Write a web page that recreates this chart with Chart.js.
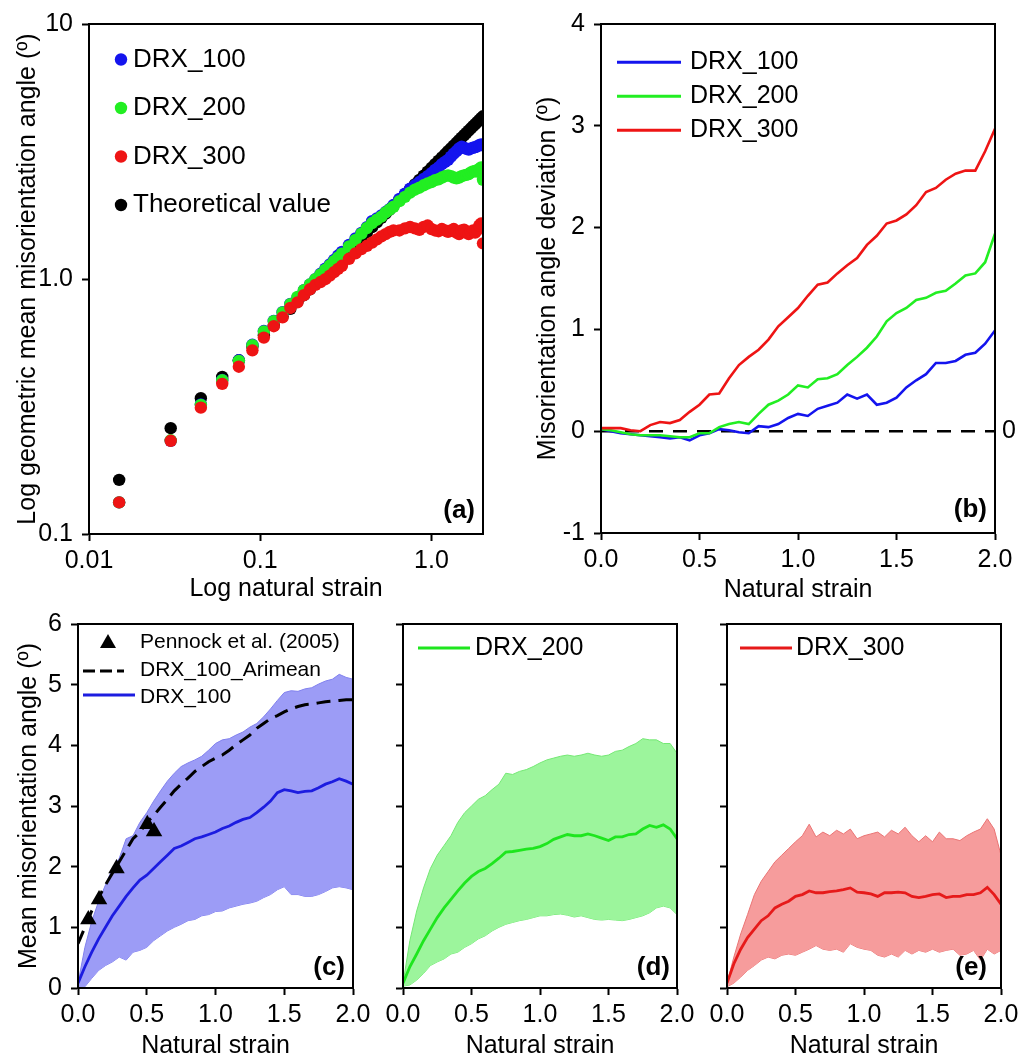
<!DOCTYPE html>
<html><head><meta charset="utf-8">
<script src="https://cdn.jsdelivr.net/npm/chart.js@4.4.1/dist/chart.umd.min.js"></script>
<style>
html,body{margin:0;padding:0;background:#fff;}
body{width:1032px;height:1061px;position:relative;overflow:hidden;}
.p{position:absolute;}
</style></head><body>
<div class="p" style="left:0;top:0"><canvas id="ca" width="510" height="610" style="width:510px;height:610px"></canvas></div>
<div class="p" style="left:500px;top:0"><canvas id="cb" width="532" height="610" style="width:532px;height:610px"></canvas></div>
<div class="p" style="left:0;top:600px"><canvas id="cc" width="380" height="461" style="width:380px;height:461px"></canvas></div>
<div class="p" style="left:380px;top:600px"><canvas id="cd" width="330" height="461" style="width:330px;height:461px"></canvas></div>
<div class="p" style="left:700px;top:600px"><canvas id="ce" width="332" height="461" style="width:332px;height:461px"></canvas></div>
<script>
// ---------- Panel (a): log-log geometric mean ----------
const strainA = [0.015,0.03,0.045,0.06,0.075,0.09,0.105,0.12,0.135,0.15,0.165,0.18,0.195,0.21,0.225,0.24,0.255,0.27,0.285,0.3,0.33,0.36,0.39,0.42,0.45,0.48,0.51,0.54,0.57,0.6,0.65,0.7,0.75,0.8,0.85,0.9,0.95,1.0,1.05,1.1,1.15,1.2,1.25,1.3,1.35,1.4,1.45,1.5,1.55,1.6,1.65,1.7,1.75,1.8,1.85,1.9,1.95,2.0];
const theoA = [0.163,0.260,0.341,0.413,0.480,0.542,0.602,0.658,0.712,0.764,0.815,0.864,0.911,0.958,1.003,1.048,1.091,1.134,1.176,1.217,1.297,1.375,1.451,1.525,1.597,1.668,1.737,1.805,1.872,1.937,2.044,2.148,2.251,2.350,2.447,2.543,2.637,2.729,2.820,2.909,2.998,3.084,3.170,3.255,3.338,3.421,3.502,3.583,3.662,3.741,3.819,3.897,3.973,4.049,4.124,4.198,4.272,4.345];
const drx100A = [0.133,0.232,0.322,0.402,0.480,0.552,0.625,0.685,0.741,0.798,0.845,0.904,0.951,0.998,1.048,1.098,1.141,1.189,1.236,1.277,1.361,1.443,1.515,1.597,1.687,1.728,1.777,1.830,1.880,1.950,2.06,2.16,2.26,2.33,2.40,2.47,2.53,2.60,2.68,2.74,2.82,2.88,2.93,3.02,3.10,3.17,3.25,3.30,3.27,3.24,3.22,3.25,3.27,3.29,3.31,3.35,3.37,3.34];
const drx200A = [0.133,0.233,0.321,0.401,0.477,0.550,0.623,0.683,0.739,0.797,0.850,0.904,0.951,0.998,1.043,1.088,1.131,1.174,1.216,1.257,1.341,1.423,1.507,1.585,1.657,1.708,1.757,1.825,1.872,1.920,2.02,2.10,2.18,2.24,2.28,2.33,2.37,2.40,2.44,2.46,2.50,2.53,2.55,2.53,2.50,2.48,2.50,2.53,2.55,2.56,2.58,2.62,2.64,2.65,2.64,2.70,2.74,2.45];
const drx300A = [0.133,0.232,0.313,0.388,0.453,0.525,0.589,0.653,0.707,0.770,0.810,0.864,0.911,0.948,0.973,0.998,1.031,1.064,1.096,1.127,1.20,1.26,1.31,1.35,1.39,1.43,1.47,1.50,1.53,1.55,1.55,1.58,1.60,1.58,1.56,1.60,1.62,1.57,1.55,1.54,1.57,1.55,1.53,1.55,1.57,1.52,1.50,1.55,1.56,1.52,1.50,1.53,1.55,1.52,1.56,1.62,1.65,1.38];
const logTicksX = [0.01,0.1,1];
const logTickLabelsX = ['0.01','0.1','1.0'];
const logTicksY = [0.1,1,10];
const logTickLabelsY = ['0.1','1.0','10'];

// ---------- Panel (b): deviation ----------
const strainGrid = [0,0.05,0.1,0.15,0.2,0.25,0.3,0.35,0.4,0.45,0.5,0.55,0.6,0.65,0.7,0.75,0.8,0.85,0.9,0.95,1.0,1.05,1.1,1.15,1.2,1.25,1.3,1.35,1.4,1.45,1.5,1.55,1.6,1.65,1.7,1.75,1.8,1.85,1.9,1.95,2.0];
const dev100 = [0.02,0.0,-0.02,-0.03,-0.04,-0.05,-0.06,-0.07,-0.06,-0.09,-0.04,-0.02,0.02,0.01,-0.01,-0.02,0.05,0.04,0.07,0.13,0.17,0.15,0.22,0.25,0.28,0.36,0.32,0.36,0.26,0.28,0.33,0.43,0.50,0.56,0.67,0.67,0.69,0.75,0.77,0.86,0.99];
const dev200 = [0.02,0.01,-0.01,-0.03,-0.04,-0.04,-0.04,-0.05,-0.06,-0.06,-0.02,-0.02,0.04,0.07,0.09,0.07,0.17,0.26,0.30,0.36,0.45,0.43,0.51,0.52,0.56,0.65,0.73,0.82,0.93,1.08,1.16,1.21,1.29,1.31,1.36,1.38,1.45,1.53,1.55,1.66,1.94];
const dev300 = [0.03,0.03,0.03,0.01,0.0,0.06,0.09,0.08,0.11,0.19,0.26,0.36,0.37,0.52,0.65,0.73,0.80,0.90,1.03,1.12,1.21,1.33,1.44,1.46,1.55,1.63,1.70,1.83,1.92,2.04,2.07,2.13,2.22,2.35,2.39,2.47,2.53,2.56,2.56,2.75,2.97];
const zeroLineX = [0,2];
const zeroLineY = [0,0];
const devTicksY = [-1,0,1,2,3,4];

// ---------- Panels (c)-(e): mean misorientation ----------
const mean100 = [0.08,0.35,0.59,0.81,1.00,1.19,1.35,1.51,1.65,1.78,1.86,1.97,2.08,2.19,2.30,2.34,2.40,2.46,2.49,2.53,2.57,2.63,2.67,2.73,2.78,2.81,2.89,2.98,3.08,3.22,3.27,3.25,3.22,3.24,3.25,3.30,3.36,3.40,3.45,3.41,3.36];
const upper100 = [0.08,0.67,1.10,1.43,1.70,1.97,2.14,2.46,2.51,2.73,2.89,3.08,3.25,3.41,3.54,3.65,3.71,3.76,3.82,3.92,4.03,4.09,4.11,4.17,4.22,4.30,4.36,4.47,4.60,4.74,4.87,4.90,4.89,4.93,4.95,5.01,5.06,5.09,5.17,5.12,5.09];
const lower100 = [0.02,0.02,0.16,0.29,0.37,0.43,0.51,0.46,0.59,0.62,0.67,0.78,0.86,0.94,1.00,1.05,1.11,1.13,1.19,1.21,1.26,1.27,1.32,1.35,1.38,1.40,1.43,1.49,1.54,1.62,1.67,1.54,1.54,1.51,1.51,1.54,1.59,1.65,1.67,1.65,1.62];
const arimean100 = [0.73,1.00,1.27,1.49,1.70,1.89,2.08,2.27,2.46,2.57,2.73,2.84,2.98,3.11,3.25,3.36,3.46,3.57,3.65,3.73,3.79,3.84,3.92,4.01,4.09,4.17,4.28,4.36,4.44,4.49,4.55,4.60,4.64,4.67,4.68,4.70,4.72,4.73,4.74,4.75,4.75];
const pennockX = [0.075,0.153,0.28,0.504,0.553];
const pennockY = [1.13,1.46,1.97,2.70,2.58];
const mean200 = [0.08,0.35,0.56,0.78,0.97,1.16,1.32,1.46,1.60,1.73,1.84,1.92,1.97,2.05,2.14,2.24,2.25,2.27,2.29,2.30,2.33,2.38,2.45,2.49,2.53,2.51,2.51,2.54,2.51,2.47,2.43,2.49,2.49,2.53,2.54,2.62,2.68,2.65,2.69,2.62,2.46];
const upper200 = [0.08,0.78,1.27,1.65,1.97,2.19,2.35,2.51,2.73,2.89,3.00,3.11,3.17,3.27,3.36,3.54,3.52,3.57,3.60,3.65,3.71,3.76,3.79,3.82,3.84,3.82,3.84,3.87,3.84,3.82,3.84,3.90,3.92,3.98,4.03,4.11,4.09,4.09,4.03,4.03,3.87];
const lower200 = [0.03,0.05,0.13,0.24,0.37,0.43,0.48,0.56,0.59,0.67,0.73,0.81,0.86,0.94,1.00,1.05,1.08,1.11,1.13,1.16,1.19,1.19,1.21,1.22,1.20,1.17,1.19,1.16,1.13,1.12,1.13,1.12,1.11,1.13,1.16,1.19,1.24,1.32,1.35,1.32,1.21];
const mean300 = [0.08,0.40,0.64,0.83,0.97,1.11,1.19,1.32,1.38,1.43,1.51,1.54,1.60,1.57,1.57,1.59,1.60,1.62,1.65,1.58,1.57,1.55,1.51,1.57,1.57,1.58,1.57,1.51,1.49,1.51,1.54,1.55,1.49,1.51,1.51,1.54,1.54,1.57,1.66,1.54,1.38];
const upper300 = [0.08,0.51,0.89,1.21,1.54,1.76,1.92,2.08,2.19,2.30,2.41,2.51,2.70,2.49,2.57,2.51,2.60,2.54,2.62,2.46,2.51,2.54,2.57,2.49,2.60,2.54,2.65,2.51,2.41,2.51,2.41,2.57,2.46,2.46,2.43,2.51,2.57,2.62,2.79,2.62,2.19];
const lower300 = [0.02,0.08,0.18,0.29,0.37,0.46,0.51,0.48,0.54,0.56,0.54,0.59,0.64,0.70,0.64,0.62,0.64,0.59,0.73,0.67,0.64,0.62,0.54,0.51,0.56,0.51,0.62,0.56,0.62,0.59,0.64,0.59,0.62,0.64,0.54,0.56,0.62,0.46,0.64,0.56,0.62];
const strainTicks = [0,0.5,1,1.5,2];
const strainTickLabels = ['0.0','0.5','1.0','1.5','2.0'];
const meanTicksY = [0,1,2,3,4,5,6];

// ---------- helpers ----------
const FONT = "'Liberation Sans', Arial, Helvetica, sans-serif";
const BLUE = '#1414ee', GREEN = '#22ee22', RED = '#ee1414';
const pts = (xs, ys) => xs.map((x, i) => ({x: x, y: ys[i]}));

function tickGrid() {
  return {display: true, drawOnChartArea: false, drawTicks: true, tickLength: 7, tickWidth: 2, tickColor: '#000'};
}
function xLinear(height, titleText, padBottom) {
  return {
    type: 'linear', min: 0, max: 2,
    afterBuildTicks: s => { s.ticks = strainTicks.map(v => ({value: v})); },
    ticks: {color: '#000', font: {family: FONT, size: 25}, padding: 5, maxRotation: 0, autoSkip: false,
            callback: (v, i) => strainTickLabels[i]},
    grid: tickGrid(), border: {display: true, color: '#000', width: 2},
    title: {display: true, text: titleText, color: '#000', font: {family: FONT, size: 25}, padding: {top: 0, bottom: padBottom}},
    afterFit: s => { s.height = height; }
  };
}
function yLinear(width, min, max, tickVals, showLabels, titleText, padTop) {
  return {
    type: 'linear', min: min, max: max,
    afterBuildTicks: s => { s.ticks = tickVals.map(v => ({value: v})); },
    ticks: {color: '#000', font: {family: FONT, size: 25}, padding: 9, autoSkip: false,
            callback: (v, i) => showLabels ? String(tickVals[i]) : ''},
    grid: tickGrid(), border: {display: true, color: '#000', width: 2},
    title: {display: !!titleText, text: titleText || '', color: '#000', font: {family: FONT, size: 25}, padding: {top: padTop || 0, bottom: 0}},
    afterFit: s => { s.width = width; }
  };
}
function overlay(drawFn) {
  return {
    id: 'overlay',
    afterDatasetsDraw(chart) {
      const ctx = chart.ctx, a = chart.chartArea;
      ctx.save();
      ctx.strokeStyle = '#000'; ctx.lineWidth = 2; ctx.setLineDash([]);
      ctx.strokeRect(a.left, a.top, a.right - a.left, a.bottom - a.top);
      drawFn(ctx, a);
      ctx.restore();
    }
  };
}
function panelLabel(ctx, text, x, y) {
  ctx.font = 'bold 26px ' + FONT; ctx.fillStyle = '#000';
  ctx.textAlign = 'right'; ctx.textBaseline = 'alphabetic';
  ctx.fillText(text, x, y);
}
function legendText(ctx, text, x, y, size) {
  ctx.font = size + 'px ' + FONT; ctx.fillStyle = '#000';
  ctx.textAlign = 'left'; ctx.textBaseline = 'middle';
  ctx.fillText(text, x, y);
}
function legendLine(ctx, x1, x2, y, color, width, dash) {
  ctx.beginPath(); ctx.strokeStyle = color; ctx.lineWidth = width; ctx.setLineDash(dash || []);
  ctx.moveTo(x1, y); ctx.lineTo(x2, y); ctx.stroke(); ctx.setLineDash([]);
}
const base = {responsive: false, animation: false, devicePixelRatio: 1, events: [],
  plugins: {legend: {display: false}, tooltip: {enabled: false}}};

// ---------- Chart (a) ----------
new Chart(document.getElementById('ca'), {
  type: 'scatter',
  data: {datasets: [
    {data: pts(strainA, drx300A), backgroundColor: RED, pointRadius: 6.2, pointBorderWidth: 0, order: 1},
    {data: pts(strainA, drx200A), backgroundColor: GREEN, pointRadius: 6.2, pointBorderWidth: 0, order: 2},
    {data: pts(strainA, drx100A), backgroundColor: BLUE, pointRadius: 6.2, pointBorderWidth: 0, order: 3},
    {data: pts(strainA, theoA), backgroundColor: '#000', pointRadius: 6.2, pointBorderWidth: 0, order: 4}
  ]},
  options: Object.assign({}, base, {
    layout: {padding: {left: 0, top: 20, right: 27, bottom: 0}},
    scales: {
      x: {type: 'logarithmic', min: 0.01, max: 2,
          afterBuildTicks: s => { s.ticks = logTicksX.map(v => ({value: v})); },
          ticks: {color: '#000', font: {family: FONT, size: 25}, padding: 5, maxRotation: 0, autoSkip: false,
                  callback: (v) => logTickLabelsX[logTicksX.indexOf(v)]},
          grid: tickGrid(), border: {display: true, color: '#000', width: 2},
          title: {display: true, text: 'Log natural strain', color: '#000', font: {family: FONT, size: 25}, padding: {top: 0, bottom: 6}},
          afterFit: s => { s.height = 76; }},
      y: {type: 'logarithmic', min: 0.1, max: 10,
          afterBuildTicks: s => { s.ticks = logTicksY.map(v => ({value: v})); },
          ticks: {color: '#000', font: {family: FONT, size: 25}, padding: 9, autoSkip: false,
                  callback: (v) => logTickLabelsY[logTicksY.indexOf(v)]},
          grid: tickGrid(), border: {display: true, color: '#000', width: 2},
          title: {display: true, text: 'Log geometric mean misorientation angle (º)', color: '#000', font: {family: FONT, size: 25}, padding: {top: 13, bottom: 0}},
          afterFit: s => { s.width = 89; }}
    }
  }),
  plugins: [overlay((ctx, a) => {
    const items = [['DRX_100', BLUE], ['DRX_200', GREEN], ['DRX_300', RED], ['Theoretical value', '#000']];
    items.forEach((it, i) => {
      const y = a.top + 35.5 + 48.5 * i;
      ctx.beginPath(); ctx.fillStyle = it[1]; ctx.arc(a.left + 32, y, 6.2, 0, Math.PI * 2); ctx.fill();
      legendText(ctx, it[0], a.left + 44, y, 26);
    });
    panelLabel(ctx, '(a)', a.right - 8, a.bottom - 16);
  })]
});

// ---------- Chart (b) ----------
new Chart(document.getElementById('cb'), {
  type: 'line',
  data: {datasets: [
    {data: pts(strainGrid, dev300), borderColor: RED, borderWidth: 2.6, pointRadius: 0, fill: false, order: 1},
    {data: pts(strainGrid, dev200), borderColor: GREEN, borderWidth: 2.6, pointRadius: 0, fill: false, order: 2},
    {data: pts(strainGrid, dev100), borderColor: BLUE, borderWidth: 2.6, pointRadius: 0, fill: false, order: 3},
    {data: pts(zeroLineX, zeroLineY), borderColor: '#000', borderWidth: 2.6, borderDash: [14, 10], pointRadius: 0, fill: false, order: 4}
  ]},
  options: Object.assign({}, base, {
    layout: {padding: {left: 0, top: 21, right: 37, bottom: 0}},
    scales: {
      x: xLinear(77, 'Natural strain', 5),
      y: yLinear(101, -1, 4, devTicksY, true, 'Misorientation angle deviation (º)', 33)
    }
  }),
  plugins: [overlay((ctx, a) => {
    const items = [['DRX_100', BLUE], ['DRX_200', GREEN], ['DRX_300', RED]];
    items.forEach((it, i) => {
      const y = a.top + 38.3 + 34 * i;
      legendLine(ctx, a.left + 16, a.left + 80, y, it[1], 3);
      legendText(ctx, it[0], a.left + 89, y, 25);
    });
    const y0 = a.top + (a.bottom - a.top) * 4 / 5;
    ctx.font = '25px ' + FONT; ctx.fillStyle = '#000'; ctx.textAlign = 'center'; ctx.textBaseline = 'middle';
    ctx.fillText('0', a.right + 14, y0);
    panelLabel(ctx, '(b)', a.right - 8, a.bottom - 16);
  })]
});

// ---------- Band panels ----------
function bandDatasets(upper, lower, mean, fillColor, edgeColor, lineColor) {
  return [
    {data: pts(strainGrid, upper), borderColor: edgeColor, borderWidth: 1, backgroundColor: fillColor, fill: '+1', pointRadius: 0, order: 8},
    {data: pts(strainGrid, lower), borderColor: edgeColor, borderWidth: 1, fill: false, pointRadius: 0, order: 9},
    {data: pts(strainGrid, mean), borderColor: lineColor, borderWidth: 2.8, fill: false, pointRadius: 0, order: 3}
  ];
}

// (c)
new Chart(document.getElementById('cc'), {
  type: 'line',
  data: {datasets: bandDatasets(upper100, lower100, mean100, '#9c9cf6', '#8080ee', '#1c1ce0').concat([
    {data: pts(strainGrid, arimean100), borderColor: '#000', borderWidth: 3, borderDash: [14, 8], fill: false, pointRadius: 0, order: 2},
    {data: pts(pennockX, pennockY), showLine: false, pointStyle: 'triangle', pointRadius: 9.5, backgroundColor: '#000', borderColor: '#000', pointBorderWidth: 0, order: 1}
  ])},
  options: Object.assign({}, base, {
    layout: {padding: {left: 0, top: 19, right: 27, bottom: 0}},
    scales: {
      x: xLinear(73, 'Natural strain', 0),
      y: yLinear(78, 0, 6, meanTicksY, true, 'Mean misorientation angle (º)', 14)
    }
  }),
  plugins: [overlay((ctx, a) => {
    // triangle marker
    const tx = a.left + 30, ty = a.top + 18;
    ctx.beginPath(); ctx.fillStyle = '#000';
    ctx.moveTo(tx, ty - 8); ctx.lineTo(tx + 8, ty + 6); ctx.lineTo(tx - 8, ty + 6); ctx.closePath(); ctx.fill();
    legendText(ctx, 'Pennock et al. (2005)', a.left + 62, a.top + 18, 21);
    legendLine(ctx, a.left + 5, a.left + 46, a.top + 47, '#000', 3, [12, 5]);
    legendText(ctx, 'DRX_100_Arimean', a.left + 62, a.top + 46, 21);
    legendLine(ctx, a.left + 5, a.left + 57, a.top + 71, '#1c1ce0', 2.8);
    legendText(ctx, 'DRX_100', a.left + 62, a.top + 73, 21);
    panelLabel(ctx, '(c)', a.right - 8, a.bottom - 13);
  })]
});

// (d)
new Chart(document.getElementById('cd'), {
  type: 'line',
  data: {datasets: bandDatasets(upper200, lower200, mean200, '#9cf59c', '#74e874', '#1ee61e')},
  options: Object.assign({}, base, {
    layout: {padding: {left: 0, top: 19, right: 33, bottom: 0}},
    scales: {
      x: xLinear(73, 'Natural strain', 0),
      y: yLinear(23, 0, 6, meanTicksY, false, '', 0)
    }
  }),
  plugins: [overlay((ctx, a) => {
    legendLine(ctx, a.left + 15, a.left + 67, a.top + 24, '#1ee61e', 2.8);
    legendText(ctx, 'DRX_200', a.left + 72, a.top + 24, 25);
    panelLabel(ctx, '(d)', a.right - 7, a.bottom - 13);
  })]
});

// (e)
new Chart(document.getElementById('ce'), {
  type: 'line',
  data: {datasets: bandDatasets(upper300, lower300, mean300, '#f69c9c', '#ea7474', '#e61a1a')},
  options: Object.assign({}, base, {
    layout: {padding: {left: 0, top: 19, right: 31, bottom: 0}},
    scales: {
      x: xLinear(73, 'Natural strain', 0),
      y: yLinear(27, 0, 6, meanTicksY, false, '', 0)
    }
  }),
  plugins: [overlay((ctx, a) => {
    legendLine(ctx, a.left + 13, a.left + 65, a.top + 24, '#e61a1a', 2.8);
    legendText(ctx, 'DRX_300', a.left + 69, a.top + 24, 25);
    panelLabel(ctx, '(e)', a.right - 14, a.bottom - 13);
  })]
});
</script>
</body></html>
